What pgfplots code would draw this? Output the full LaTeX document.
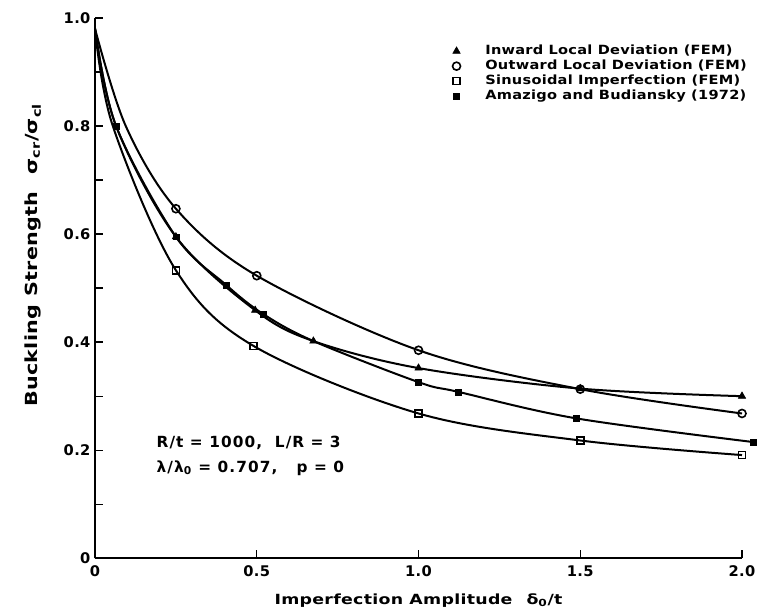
\documentclass[border=0pt]{standalone}
\usepackage{fontspec}
\setmainfont{DejaVu Sans}[LetterSpace=2]
\newfontfamily\labfont[FakeStretch=1.24, LetterSpace=2]{DejaVu Sans}
\newfontfamily\legfont[FakeStretch=1.15, LetterSpace=2]{DejaVu Sans}
\newfontfamily\annfont[LetterSpace=7]{DejaVu Sans}
\usepackage{pgfplots}
\pgfplotsset{compat=1.18}

\begin{document}
\begin{tikzpicture}
\begin{axis}[
  name=ax,
  scale only axis, width=485pt, height=405pt,
  xmin=0, xmax=2.0, ymin=0, ymax=1.0,
  axis lines*=left, clip=false,
  axis line style={line width=1.2pt},
  tick align=inside, major tick length=6pt, minor tick length=6pt,
  tick style={line width=1pt, black},
  xtick={0,0.5,1.0,1.5,2.0}, xticklabels={0,0.5,1.0,1.5,2.0},
  ytick={0,0.2,0.4,0.6,0.8,1.0}, yticklabels={0,0.2,0.4,0.6,0.8,1.0},
  minor ytick={0.1,0.3,0.5,0.7,0.9},
  ticklabel style={font=\fontsize{11}{12}\selectfont\bfseries},
  xticklabel style={yshift=-2pt},
  xlabel={Imperfection Amplitude\quad δ\textsubscript{0}/t},
  ylabel={Buckling Strength\quad σ\textsubscript{cr}/σ\textsubscript{cl}},
  every axis x label/.style={at={(axis description cs:0.5,-0.0778)}, anchor=center,
    font=\labfont\fontsize{10.5}{12}\selectfont\bfseries},
  every axis y label/.style={at={(axis description cs:-0.0959,0.561)}, anchor=center, rotate=90,
    font=\labfont\fontsize{12.5}{14}\selectfont\bfseries},
  legend style={at={(rel axis cs:1.018,0.958)}, anchor=north east, draw=none, fill=none,
    font=\legfont\fontsize{9.5}{11.25}\selectfont\bfseries, row sep=0pt,
    nodes={inner ysep=0.5pt, text height=8pt, text depth=2.25pt}},
  legend image code/.code={\path (-3pt,0pt) (19pt,0pt); \draw[#1] plot coordinates {(0pt,0pt)};},
  legend cell align=left,
]
% curves
\addplot[black, line width=1.5pt, smooth, tension=0.55, forget plot] coordinates
  {(0,0.98) (0.065,0.80) (0.25,0.595) (0.495,0.459) (0.675,0.402) (1.0,0.352) (1.5,0.314) (2.0,0.300)};
\addplot[black, line width=1.5pt, smooth, tension=0.55, forget plot] coordinates
  {(0,0.98) (0.095,0.80) (0.25,0.647) (0.5,0.523) (1.0,0.385) (1.5,0.313) (2.0,0.268)};
\addplot[black, line width=1.5pt, smooth, tension=0.55, forget plot] coordinates
  {(0,0.98) (0.055,0.80) (0.25,0.533) (0.49,0.393) (1.0,0.268) (1.5,0.218) (2.0,0.191)};
\addplot[black, line width=1.5pt, smooth, tension=0.55, forget plot] coordinates
  {(0,0.98) (0.065,0.80) (0.25,0.595) (0.405,0.506) (0.52,0.452) (0.675,0.402) (1.0,0.326) (1.123,0.308) (1.487,0.259) (2.036,0.215)};
% markers
\addplot[only marks, mark=triangle*, mark size=3.2pt, black] coordinates
  {(0.25,0.595) (0.495,0.459) (0.675,0.402) (1.0,0.352) (1.5,0.314) (2.0,0.300)};
\addplot[only marks, mark=o, mark size=3pt, line width=1.2pt, black, mark options={fill=white}] coordinates
  {(0.25,0.647) (0.5,0.523) (1.0,0.385) (1.5,0.313) (2.0,0.268)};
\addplot[only marks, mark=square, mark size=2.6pt, line width=1.2pt, black, mark options={fill=white}] coordinates
  {(0.25,0.533) (0.49,0.393) (1.0,0.268) (1.5,0.218) (2.0,0.191)};
\addplot[only marks, mark=square*, mark size=2.2pt, black] coordinates
  {(0.065,0.80) (0.25,0.595) (0.405,0.506) (0.52,0.452) (1.0,0.326) (1.123,0.308) (1.487,0.259) (2.036,0.215)};
\legend{Inward Local Deviation (FEM), Outward Local Deviation (FEM), Sinusoidal Imperfection (FEM), Amazigo and Budiansky (1972)}
\node[anchor=west, align=left, font=\annfont\fontsize{11.5}{18.75}\selectfont\bfseries] at (axis cs:0.176,0.19)
  {R/t = 1000,\ \ L/R = 3\\ λ/λ\textsubscript{0} = 0.707,\ \ \ p = 0};
\end{axis}
\pgfresetboundingbox
\path[use as bounding box] ([xshift=-71.25pt,yshift=-42.75pt]ax.south west) rectangle ([xshift=12pt,yshift=13.5pt]ax.north east);
\end{tikzpicture}
\end{document}
